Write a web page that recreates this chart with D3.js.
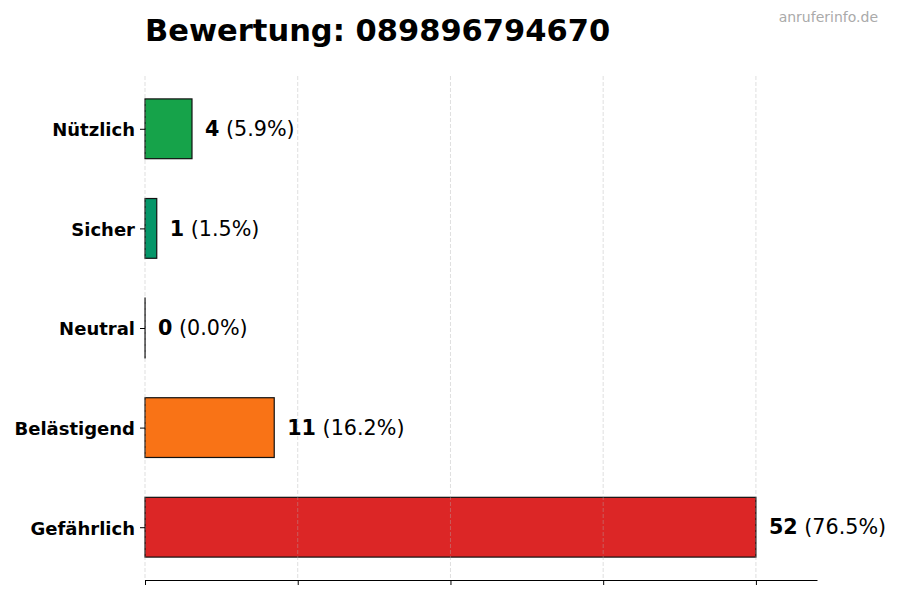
<!DOCTYPE html>
<html lang="de">
<head>
<meta charset="UTF-8">
<title>Bewertung: 089896794670</title>
<script src="https://d3js.org/d3.v7.min.js"></script>
<style>
  body { margin: 0; background: #fff; }
  text { font-family: "DejaVu Sans", sans-serif; }
</style>
</head>
<body>
<div id="chart"></div>
<script>
// Werte aus dem Diagramm (unten nach oben)
const categories = ["Gefährlich", "Belästigend", "Neutral", "Sicher", "Nützlich"];
const counts = [52, 11, 0, 1, 4];
const colors = ["#dc2626", "#f97316", "#9ca3af", "#059669", "#16a34a"];
const total = d3.sum(counts);

const width = 900, height = 600;
const margin = {top: 76, right: 83, bottom: 20, left: 145};

const svg = d3.select("#chart").append("svg")
    .attr("width", width)
    .attr("height", height);

const maxVal = d3.max(counts);

const x = d3.scaleLinear()
    .domain([0, maxVal * 1.1])
    .range([margin.left, width - margin.right]);

// matplotlib-artige y-Achse: Bars um Index, Höhe 0.6, 5% Rand
const y = d3.scaleLinear()
    .domain([-0.53, categories.length - 1 + 0.53])
    .range([height - margin.bottom, margin.top]);
const barH = y(0) - y(0.6);

const tickVals = [0, 0.25, 0.5, 0.75, 1].map(f => f * maxVal);

// Balken
const data = categories.map((c, i) => ({cat: c, v: counts[i], color: colors[i], i}));

svg.append("g").selectAll("rect")
    .data(data)
    .join("rect")
    .attr("x", x(0))
    .attr("y", d => y(d.i) - barH / 2)
    .attr("width", d => Math.max(x(d.v) - x(0), 0.1))   // 0 soll als Strich sichtbar bleiben
    .attr("height", barH)
    .attr("fill", d => d.color)
    .attr("stroke", "#111")
    .attr("stroke-width", 1.2);

// Gitterlinien
svg.append("g").selectAll("line")
    .data(tickVals)
    .join("line")
    .attr("x1", d => x(d)).attr("x2", d => x(d))
    .attr("y1", margin.top).attr("y2", height - margin.bottom)
    .attr("stroke", "#b0b0b0")
    .attr("stroke-opacity", 0.5)
    .attr("stroke-width", 0.8)
    .attr("stroke-dasharray", "4,2");

// x-Achse ohne Beschriftung
svg.append("g")
    .attr("transform", `translate(0,${height - margin.bottom})`)
    .call(d3.axisBottom(x).tickValues(tickVals).tickFormat("").tickSize(5).tickSizeOuter(0))
    .call(g => g.select(".domain").attr("stroke", "#000").attr("stroke-width", 1));

// y-Achse: nur Ticks + Labels
svg.append("g")
    .attr("transform", `translate(${x(0)},0)`)
    .call(d3.axisLeft(y).tickValues(d3.range(categories.length)).tickFormat(i => categories[i]).tickSize(5).tickPadding(5))
    .call(g => g.select(".domain").remove())
    .call(g => g.selectAll("text")
        .attr("font-family", "DejaVu Sans")
        .attr("font-size", 18)
        .attr("font-weight", "bold")
        .attr("dy", "0.38em")
        .attr("fill", "#000"));

// Wertbeschriftungen
const lbl = svg.append("g").selectAll("text")
    .data(data)
    .join("text")
    .attr("x", d => x(d.v) + 13)
    .attr("y", d => y(d.i))
    .attr("dy", "0.35em")
    .attr("font-size", 20.7);
lbl.append("tspan").attr("font-weight", "bold").text(d => d.v);
lbl.append("tspan").text(d => ` (${(d.v / total * 100).toFixed(1)}%)`);

// Titel
svg.append("text")
    .attr("x", margin.left)
    .attr("y", 41)
    .attr("font-size", 30.5)
    .attr("font-weight", "bold")
    .text("Bewertung: 089896794670");

svg.append("text")
    .attr("x", 878)
    .attr("y", 22)
    .attr("text-anchor", "end")
    .attr("font-size", 14)
    .attr("fill", "#aaaaaa")
    .text("anruferinfo.de");
</script>
</body>
</html>
